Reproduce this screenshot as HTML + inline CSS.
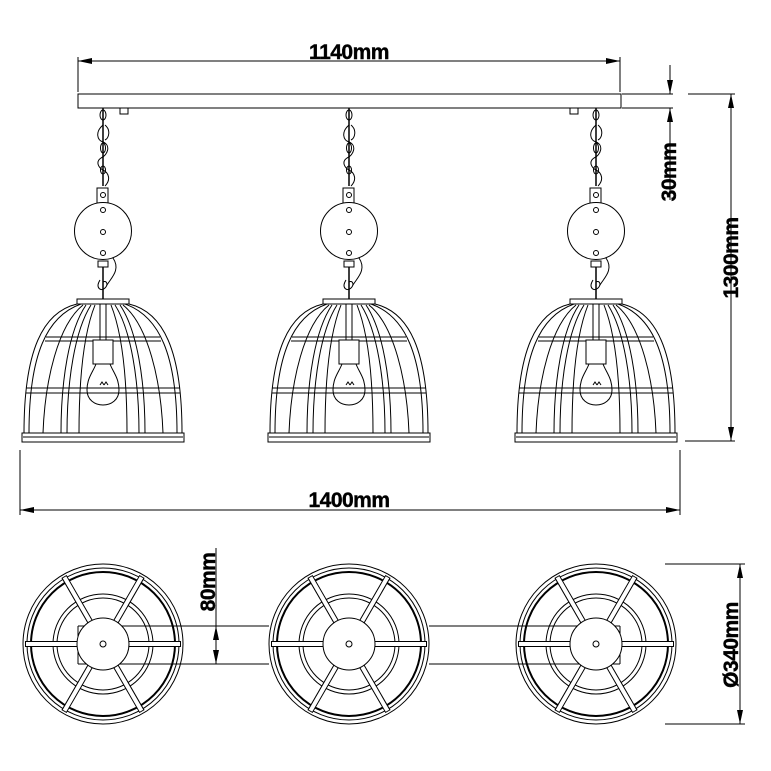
<!DOCTYPE html>
<html><head><style>body{margin:0;background:#fff}svg{display:block}</style></head><body>
<svg width="771" height="771" viewBox="0 0 771 771" xmlns="http://www.w3.org/2000/svg" font-family="Liberation Sans, sans-serif">
<defs>
<g id="lamp" fill="none" stroke="#000" stroke-width="1">
  <path d="M0 108 L0 186" stroke-width="1.5"/>
  <ellipse cx="0" cy="115" rx="3" ry="5"/>
  <path d="M0 125 C-8 132,-6 140,0 142 C8 145,5 155,-2 158 C-8 162,-4 168,0 170 C6 173,8 180,2 186"/>
  <path d="M2 125 C8 130,6 138,2 140"/>
  <ellipse cx="0" cy="148" rx="2.5" ry="5"/>
  <ellipse cx="0" cy="170" rx="2.5" ry="4"/>
  <rect x="-6" y="188" width="11" height="15" fill="#fff"/>
  <circle cx="0" cy="195" r="2.5"/>
  <circle cx="0" cy="231" r="28.5" fill="#fff"/>
  <circle cx="0" cy="210" r="2.5"/>
  <circle cx="0" cy="232" r="2.5"/>
  <circle cx="0" cy="253" r="2.5"/>
  <rect x="-5" y="261" width="10" height="6"/>
  <path d="M0 267 L0 300" stroke-width="1.5"/>
  <path d="M10 258 C18 270,8 278,4 285"/>
  <path d="M-3 280 C-8 288,-2 292,2 288 C6 284,3 280,0 282"/>
  <rect x="-26" y="299" width="52" height="5" fill="#fff"/>
  <path d="M-26 304 C-60 312,-79 350,-79 433 M26 304 C60 312,79 350,79 433"/>
  <path d="M-22 304 C-56 316,-74 354,-74 433 M22 304 C56 316,74 354,74 433"/>
  <rect x="-81" y="433" width="162" height="9"/>
  <path d="M-80 437 L80 437"/>
  <path d="M-57 337 L57 337 M-58 341 L58 341"/>
  <path d="M-77 388 L77 388 M-77 393 L77 393"/>
  <path d="M-17 305 C-34 330,-42 380,-42 433 M-12 305 C-28 330,-36 380,-36 433"/>
  <path d="M17 305 C34 330,42 380,42 433 M12 305 C28 330,36 380,36 433"/>
  <path d="M-8 305 C-20 335,-24 380,-24 433 M8 305 C20 335,24 380,24 433"/>
  <path d="M-20 305 C-45 325,-58 380,-60 433 M20 305 C45 325,58 380,60 433"/>
  <path d="M-3 304 L-3 340 M3 304 L3 340"/>
  <rect x="-10" y="340" width="20" height="24" fill="#fff"/>
  <path d="M-7 364 C-10 372,-16 378,-16 390 C-16 400,-8 405,0 405 C8 405,16 400,16 390 C16 378,10 372,7 364"/>
  <path d="M-3 385 l2 -3 l2 3 M1 385 l2 -3 l2 3"/>
</g>
<g id="rings" fill="none" stroke="#000" stroke-width="1">
  <circle r="80" fill="#fff"/>
  <circle r="76"/>
  <circle r="72" stroke-width="2"/>
  <circle r="50"/>
  <circle r="46"/>
  <g stroke-width="6"><path d="M-78 0 L78 0 M-39 -67.5 L39 67.5 M39 -67.5 L-39 67.5"/></g>
  <g stroke="#fff" stroke-width="4"><path d="M-77 0 L77 0 M-38.5 -66.7 L38.5 66.7 M38.5 -66.7 L-38.5 66.7"/></g>
</g>
<g id="disc" fill="#fff" stroke="#000" stroke-width="1">
  <circle r="26"/>
  <circle r="3" fill="none"/>
</g>
</defs>

<rect x="78" y="94" width="543" height="14" fill="#fff" stroke="#000"/>
<rect x="120" y="108" width="8" height="6" fill="none" stroke="#000"/>
<rect x="570" y="108" width="8" height="6" fill="none" stroke="#000"/>

<use href="#lamp" x="103"/>
<use href="#lamp" x="349"/>
<use href="#lamp" x="596"/>

<g stroke="#000" stroke-width="1" fill="none">
  <path d="M78 57 L78 92 M620 57 L620 92 M78 61 L620 61"/>
  <path d="M20 450 L20 515 M680 450 L680 515 M20 510 L680 510"/>
  <path d="M622 94 L673 94 M622 108 L673 108 M670 65 L670 94 M670 108 L670 200"/>
  <path d="M688 94 L735 94 M685 441 L735 441 M731 94 L731 441"/>
  <path d="M216 548 L216 626 M210 626 L230 626 M210 664 L230 664 M216 626 L216 664"/>
  <path d="M665 564 L745 564 M665 724 L745 724 M740 564 L740 724"/>
</g>
<g fill="#000">
  <path d="M78 61 l14 -3 l0 6z M620 61 l-14 -3 l0 6z"/>
  <path d="M20 510 l14 -3 l0 6z M680 510 l-14 -3 l0 6z"/>
  <path d="M670 94 l-3 -14 l6 0z M670 108 l-3 14 l6 0z"/>
  <path d="M731 94 l-3 14 l6 0z M731 441 l-3 -14 l6 0z"/>
  <path d="M216 626 l-3 14 l6 0z M216 664 l-3 -14 l6 0z"/>
  <path d="M740 564 l-3 14 l6 0z M740 724 l-3 -14 l6 0z"/>
</g>

<use href="#rings" x="103" y="644"/>
<use href="#rings" x="349" y="644"/>
<use href="#rings" x="596" y="644"/>
<g stroke="#000" fill="none">
  <path d="M78 626 L269 626 M78 664 L269 664 M78 626 L78 664"/>
  <path d="M429 626 L620 626 M429 664 L620 664 M620 626 L620 664"/>
</g>
<use href="#disc" x="103" y="644"/>
<use href="#disc" x="349" y="644"/>
<use href="#disc" x="596" y="644"/>

<g font-weight="bold" font-size="21" fill="#000" stroke="#000" stroke-width="0.4" letter-spacing="-0.5">
  <text x="349" y="59" text-anchor="middle">1140mm</text>
  <text x="349" y="507" text-anchor="middle">1400mm</text>
  <text transform="translate(676,172) rotate(-90)" text-anchor="middle">30mm</text>
  <text transform="translate(738,258) rotate(-90)" text-anchor="middle">1300mm</text>
  <text transform="translate(215,582) rotate(-90)" text-anchor="middle">80mm</text>
  <text transform="translate(738,645) rotate(-90)" text-anchor="middle">Ø340mm</text>
</g>
</svg>
</body></html>
